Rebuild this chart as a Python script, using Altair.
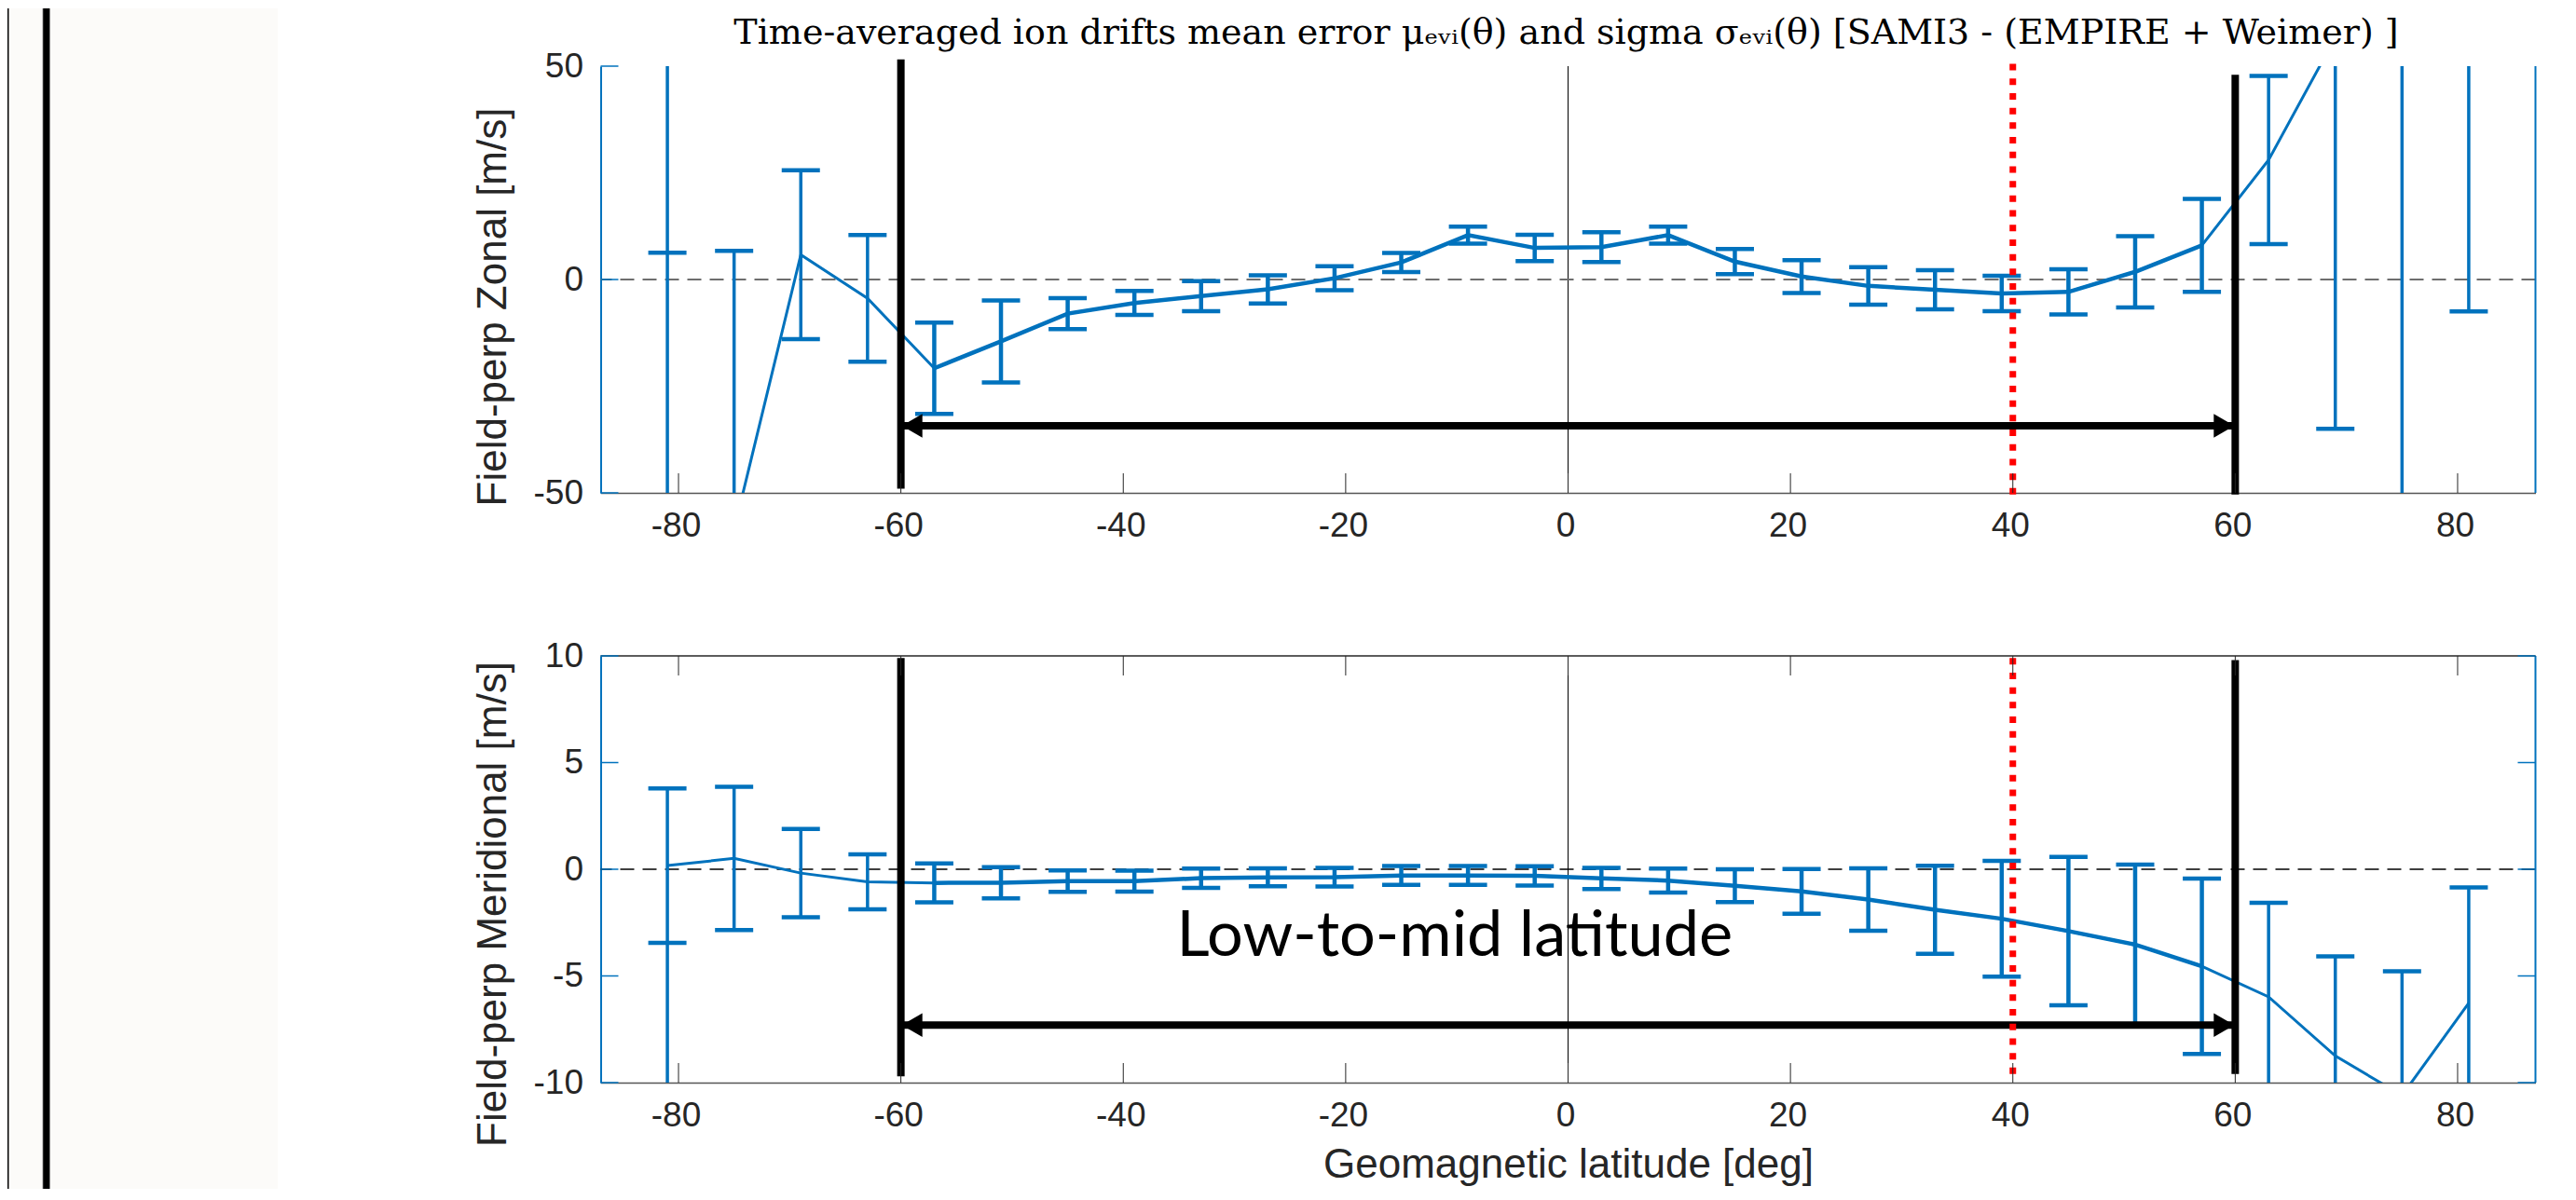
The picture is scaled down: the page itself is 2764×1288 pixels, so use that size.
import altair as alt
import pandas as pd

# ---------------- data ----------------
lat = [-81, -75, -69, -63, -57, -51, -45, -39, -33, -27, -21, -15, -9, -3,
       3, 9, 15, 21, 27, 33, 39, 45, 51, 57, 63, 69, 75, 81]

zonal_mean = [-100.0, -58.6, 5.8, -4.4, -20.8, -14.5, -8.0, -5.5, -3.9, -2.3,
              0.3, 4.0, 10.4, 7.4, 7.6, 10.4, 4.2, 0.7, -1.5, -2.4,
              -3.3, -2.9, 1.8, 8.0, 28.0, 56.7, 90.0, 70.0]
zonal_sigma = [106.3, 65.3, 19.8, 14.85, 10.7, 9.6, 3.65, 2.8, 3.5, 3.3,
               2.8, 2.25, 2.0, 3.1, 3.5, 2.0, 2.95, 3.85, 4.4, 4.6,
               4.15, 5.3, 8.35, 10.9, 19.7, 91.7, 160.0, 77.5]

merid_mean = [0.17, 0.51, -0.18, -0.59, -0.64, -0.63, -0.56, -0.56, -0.42, -0.38,
              -0.37, -0.29, -0.29, -0.31, -0.43, -0.53, -0.77, -1.04, -1.42, -1.9,
              -2.32, -2.9, -3.53, -4.55, -5.98, -8.75, -10.6, -6.27]
merid_sigma = [3.62, 3.36, 2.07, 1.29, 0.91, 0.73, 0.5, 0.49, 0.45, 0.42,
               0.44, 0.44, 0.44, 0.45, 0.5, 0.56, 0.77, 1.05, 1.46, 2.06,
               2.71, 3.48, 3.75, 4.11, 4.41, 4.67, 5.82, 5.42]

extra_lat = [-81]
zonal_extra = [6.3, 50.0]
merid_extra = [-3.45, -10.0]

x_ticks = [-80, -60, -40, -20, 0, 20, 40, 60, 80]
zonal_yticks = [-50, 0, 50]
merid_yticks = [-10, -5, 0, 5, 10]

boundary_lat = [-60, 60]
zonal_boundary_lo = [-49.0, -50.4]
zonal_boundary_hi = [51.6, 48.0]
merid_boundary_lo = [-9.7, -9.6]
merid_boundary_hi = [9.9, 9.8]

red_lat = [40]
zonal_red = [-50.4, 52.1]
merid_red = [-9.6, 9.9]

zonal_arrow_y = -34.3
merid_arrow_y = -7.3

label_text = "Low-to-mid latitude"
label_lat = -10.2
label_val = -4.05

title_text = ("Time-averaged ion drifts mean error \u03bc\u2091\u1d65\u1d62(\u03b8) and sigma "
              "\u03c3\u2091\u1d65\u1d62(\u03b8) [SAMI3 - (EMPIRE + Weimer) ]")

# ---------------- style ----------------
BLUE = "#0072BD"
DARK = "#262626"
AXLINE = "#555555"
W, H = 2076, 458
XDOM = [-87, 87]
AXFONT = "Liberation Sans"
FS = 37
TFS = 44
LABEL_EXPR = "datum.value < 0 ? ('' + datum.value + '\u00a0') : ('' + datum.value)"


def panel(mean, sigma, ydom, yticks, extra, bnd_lo, bnd_hi, red, arrow_y,
          ytitle, ytitle_y, dash_color, dash_width, top_frame, right_ticks, xtitle):
    df = pd.DataFrame({"lat": lat, "mean": mean, "sigma": sigma})
    df["lo"] = df["mean"] - df["sigma"]
    df["hi"] = df["mean"] + df["sigma"]
    df["inner"] = df["lat"].abs() <= 57
    caps = pd.concat([
        pd.DataFrame({"lat": df["lat"], "v": df["lo"], "inner": df["inner"]}),
        pd.DataFrame({"lat": df["lat"], "v": df["hi"], "inner": df["inner"]}),
    ])
    caps = caps[(caps["v"] >= ydom[0]) & (caps["v"] <= ydom[1])]

    xs = alt.Scale(domain=XDOM, nice=False, zero=False)
    ys = alt.Scale(domain=ydom, nice=False, zero=False)
    xaxis = alt.Axis(values=x_ticks, ticks=False, grid=False, domainColor=AXLINE,
                     domainWidth=1.5, labelFont=AXFONT, labelFontSize=FS,
                     labelColor=DARK, labelPadding=17, labelExpr=LABEL_EXPR,
                     labelOffset=-3, labelOverlap=False, labelFlush=False,
                     title=xtitle, titleFont=AXFONT, titleFontSize=TFS,
                     titleFontWeight="normal", titleColor=DARK, titlePadding=13)
    yaxis = alt.Axis(values=yticks, ticks=False, grid=False, domainColor=BLUE,
                     domainWidth=2, labelFont=AXFONT, labelFontSize=FS,
                     labelColor=DARK, labelPadding=19, labelExpr=LABEL_EXPR,
                     labelOverlap=False, labelFlush=False,
                     title=ytitle, titleFont=AXFONT, titleFontSize=TFS,
                     titleFontWeight="normal", titleColor=DARK, titlePadding=21,
                     titleY=ytitle_y)

    X = alt.X("lat:Q", scale=xs, axis=xaxis)
    base = alt.Chart(df)

    layers = []
    layers.append(alt.Chart(pd.DataFrame({"lat": [0]})).mark_rule(
        color="black", strokeWidth=1).encode(x=X))
    layers.append(alt.Chart(pd.DataFrame({"v": [0]})).mark_rule(
        color=dash_color, strokeWidth=dash_width, strokeDash=[15, 9]).encode(
        y=alt.Y("v:Q", scale=ys, axis=yaxis)))
    # error bars
    layers.append(base.transform_filter("!datum.inner").mark_rule(
        color=BLUE, strokeWidth=3.5, clip=True).encode(
        x=X, y=alt.Y("lo:Q", scale=ys, axis=yaxis), y2="hi:Q"))
    layers.append(base.transform_filter("datum.inner").mark_rule(
        color=BLUE, strokeWidth=4.5, clip=True).encode(
        x=X, y=alt.Y("lo:Q", scale=ys, axis=yaxis), y2="hi:Q"))
    layers.append(alt.Chart(pd.DataFrame({"lat": extra_lat, "a": [extra[0]],
                                          "b": [extra[1]]})).mark_rule(
        color=BLUE, strokeWidth=3.5, clip=True).encode(
        x=X, y=alt.Y("a:Q", scale=ys, axis=yaxis), y2="b:Q"))
    # caps
    layers.append(alt.Chart(caps).mark_tick(
        orient="horizontal", size=41, thickness=4.5, color=BLUE, clip=True,
        opacity=1).encode(x=X, y=alt.Y("v:Q", scale=ys, axis=yaxis)))
    # mean lines
    layers.append(base.mark_line(color=BLUE, strokeWidth=3, clip=True).encode(
        x=X, y=alt.Y("mean:Q", scale=ys, axis=yaxis)))
    layers.append(base.transform_filter("datum.inner").mark_line(
        color=BLUE, strokeWidth=4.5, clip=True).encode(
        x=X, y=alt.Y("mean:Q", scale=ys, axis=yaxis)))
    # boundaries at +-60
    layers.append(alt.Chart(pd.DataFrame({"lat": boundary_lat, "a": bnd_lo,
                                          "b": bnd_hi})).mark_rule(
        color="black", strokeWidth=8).encode(
        x=X, y=alt.Y("a:Q", scale=ys, axis=yaxis), y2="b:Q"))
    # double arrow
    arr = pd.DataFrame({"a": [boundary_lat[0]], "b": [boundary_lat[1]],
                        "v": [arrow_y]})
    layers.append(alt.Chart(arr).mark_rule(color="black", strokeWidth=8).encode(
        x=alt.X("a:Q", scale=xs, axis=xaxis), x2="b:Q",
        y=alt.Y("v:Q", scale=ys, axis=yaxis)))
    layers.append(alt.Chart(arr).mark_point(
        shape="triangle-left", filled=True, size=650, color="black", opacity=1,
        xOffset=12).encode(x=alt.X("a:Q", scale=xs, axis=xaxis),
                           y=alt.Y("v:Q", scale=ys, axis=yaxis)))
    layers.append(alt.Chart(arr).mark_point(
        shape="triangle-right", filled=True, size=650, color="black", opacity=1,
        xOffset=-12).encode(x=alt.X("b:Q", scale=xs, axis=xaxis),
                            y=alt.Y("v:Q", scale=ys, axis=yaxis)))
    # red dotted line at 40
    layers.append(alt.Chart(pd.DataFrame({"lat": red_lat, "a": [red[0]],
                                          "b": [red[1]]})).mark_rule(
        color="#FF0000", strokeWidth=7, strokeDash=[7, 8.7]).encode(
        x=X, y=alt.Y("a:Q", scale=ys, axis=yaxis), y2="b:Q"))
    # frame
    one = pd.DataFrame({"k": [0]})
    layers.append(alt.Chart(one).mark_rule(color=BLUE, strokeWidth=2).encode(
        x=alt.value(W), y=alt.value(0), y2=alt.value(H)))
    if top_frame:
        layers.append(alt.Chart(one).mark_rule(color=DARK, strokeWidth=1.5).encode(
            y=alt.value(0), x=alt.value(0), x2=alt.value(W)))
    xt = pd.DataFrame({"lat": x_ticks})
    layers.append(alt.Chart(xt).mark_rule(color=DARK, strokeWidth=1).encode(
        x=X, y=alt.value(H), y2=alt.value(H - 21)))
    if top_frame:
        layers.append(alt.Chart(xt).mark_rule(color=DARK, strokeWidth=1).encode(
            x=X, y=alt.value(0), y2=alt.value(21)))
    yt = pd.DataFrame({"v": yticks})
    layers.append(alt.Chart(yt).mark_rule(color=BLUE, strokeWidth=1.5).encode(
        y=alt.Y("v:Q", scale=ys, axis=yaxis), x=alt.value(0), x2=alt.value(19)))
    if right_ticks:
        layers.append(alt.Chart(yt).mark_rule(color=BLUE, strokeWidth=1.5).encode(
            y=alt.Y("v:Q", scale=ys, axis=yaxis), x=alt.value(W - 19),
            x2=alt.value(W)))
    return layers


top_layers = panel(zonal_mean, zonal_sigma, [-50, 50], zonal_yticks, zonal_extra,
                   zonal_boundary_lo, zonal_boundary_hi, zonal_red, zonal_arrow_y,
                   "Field-perp Zonal [m/s]", 258, "#6E6E6E", 2, False, False, None)
title_mark = alt.Chart(pd.DataFrame({"t": [title_text]})).mark_text(
    font="DejaVu Serif", fontSize=38, color="black", baseline="alphabetic",
    align="center").encode(x=alt.value(W / 2 - 2), y=alt.value(-24.5), text="t:N")
top = alt.layer(*top_layers, title_mark).properties(width=W, height=H)

bot_layers = panel(merid_mean, merid_sigma, [-10, 10], merid_yticks, merid_extra,
                   merid_boundary_lo, merid_boundary_hi, merid_red, merid_arrow_y,
                   "Field-perp Meridional [m/s]", 266, "black", 1.5, True, True,
                   "Geomagnetic latitude [deg]")
txt = alt.Chart(pd.DataFrame({"lat": [label_lat], "v": [label_val],
                              "t": [label_text]})).mark_text(
    font="Lato", fontSize=68.5, color="black", baseline="alphabetic",
    align="center").encode(
    x=alt.X("lat:Q", scale=alt.Scale(domain=XDOM, nice=False, zero=False)),
    y=alt.Y("v:Q", scale=alt.Scale(domain=[-10, 10], nice=False, zero=False)),
    text="t:N")
bot = alt.layer(*bot_layers, txt).properties(width=W, height=H)

right = alt.vconcat(top, bot, spacing=103)

one = pd.DataFrame({"k": [0]})
T0 = -62
LH = 1205
left = alt.layer(
    alt.Chart(one).mark_rect(color="#FCFBF9").encode(
        x=alt.value(0), x2=alt.value(290), y=alt.value(T0), y2=alt.value(LH)),
    alt.Chart(one).mark_rect(color="black").encode(
        x=alt.value(0), x2=alt.value(1.5), y=alt.value(T0), y2=alt.value(LH)),
    alt.Chart(one).mark_rect(color="#9A9A9A").encode(
        x=alt.value(37.5), x2=alt.value(45.6), y=alt.value(T0), y2=alt.value(LH)),
    alt.Chart(one).mark_rect(color="black").encode(
        x=alt.value(38.3), x2=alt.value(45.3), y=alt.value(T0), y2=alt.value(LH)),
).properties(width=290, height=1100)

chart = alt.hconcat(left, right, spacing=208.5).properties(
    padding={"top": 1, "bottom": 0, "left": 0, "right": 0}, background="white"
).configure_view(stroke=None)

chart.save("out.html", embed_options={"renderer": "svg", "actions": False})
